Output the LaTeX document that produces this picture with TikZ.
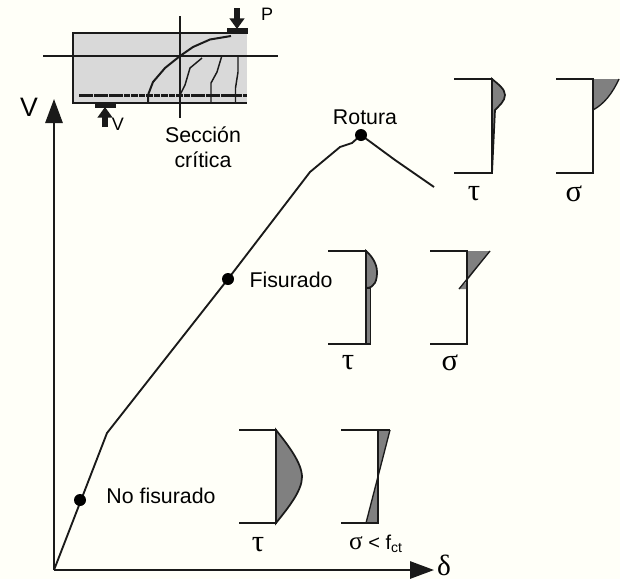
\documentclass[tikz,border=0pt]{standalone}
\usepackage{fontspec}
\setmainfont{Liberation Sans}
\newfontfamily\grk{Liberation Serif}
\usetikzlibrary{arrows.meta}
\definecolor{bgc}{HTML}{FFFFF8}
\definecolor{beam}{HTML}{D9D9D9}
\definecolor{stress}{HTML}{808080}
\definecolor{ink}{HTML}{1A1A1A}
\tikzset{
  x=0.75pt,y=-0.75pt,
  thinl/.style={draw=ink,line width=1.1pt},
  crack/.style={draw=ink,line width=1.1pt},
  stressfill/.style={fill=stress,draw=ink,line width=1.3pt},
  frame/.style={draw=ink,line width=1.5pt},
  lab/.style={font=\fontsize{16pt}{18pt}\selectfont,text=black,inner sep=0pt},
  smalllab/.style={font=\fontsize{13.5pt}{15pt}\selectfont,text=black,inner sep=0pt},
  greek/.style={font=\fontsize{23pt}{25pt}\selectfont\grk,text=black,inner sep=0pt},
  axis/.style={draw=ink,line width=1.4pt,-{Triangle[length=18pt,width=13pt]}},
  loadarrow/.style={draw=ink,line width=4pt,-{Triangle[length=8pt,width=11pt]}},
  dot/.style={circle,fill=black,inner sep=0pt,minimum size=9pt},
}
\begin{document}
\begin{tikzpicture}
\useasboundingbox (0,0) rectangle (620,579);
\fill[bgc] (0,0) rectangle (620,579);
% beam
\fill[beam] (73,33) rectangle (247,103);
\draw[frame] (247,33) -- (73,33) -- (73,103) -- (247,103);
\draw[thinl] (43,56) -- (278,56);
\draw[thinl] (180,16) -- (180,118);
\draw[draw=ink,line width=2.6pt,dash pattern=on 5pt off 0.6pt] (79,95.5) -- (247,95.5);
\fill[ink] (227,28) rectangle (248,33.5);
\fill[ink] (95,103) rectangle (116,107.5);
\coordinate (pt) at (237,8); \coordinate (pb) at (237,29);
\draw[loadarrow] (pt) -- (pb);
\coordinate (vb) at (105,127); \coordinate (vt) at (105,107);
\draw[loadarrow] (vb) -- (vt);
\draw[crack,line width=1.5pt] (231,36) -- (210,39.5) -- (193,47) -- (180,56) -- (165,68) -- (153,82) -- (148,95) -- (148,103);
\draw[crack] (202,58) -- (190,68) -- (185,85) -- (180,95) -- (180,103);
\draw[crack] (221.500,57) -- (217,72) -- (211,83) -- (211,102);
\draw[crack] (238,57) -- (238,72) -- (235.500,88) -- (235.500,102);
\node[smalllab,anchor=center] (lp) at (267,14) {P};
\node[smalllab,anchor=center] (lv) at (118,124) {V};
\node[lab,anchor=center] (sc1) at (203,135) {Sección};
\node[lab,anchor=center] (sc2) at (203,160) {crítica};
% axes
\coordinate (o) at (54,570);
\coordinate (ytop) at (54,99);
\coordinate (xend) at (434,570);
\draw[axis] (o) -- (ytop);
\draw[axis] (o) -- (xend);
\node[font=\fontsize{20pt}{22pt}\selectfont,inner sep=0pt] (lV) at (29,107) {V};
\node[font=\fontsize{22pt}{24pt}\selectfont\grk,inner sep=0pt] (ld) at (444,565) {δ};
% curve
\draw[draw=ink,line width=1.4pt] (o) -- (107,433) -- (228,279) -- (310,172) -- (340,147) -- (352,143) -- (361,135) -- (395,160) -- (434,187);
\node[dot] (d1) at (80,500) {};
\node[dot] (d2) at (228,279) {};
\node[dot] (d3) at (361,135) {};
\node[lab] (l1) at (161,496) {No fisurado};
\node[lab] (l2) at (291,280) {Fisurado};
\node[lab] (l3) at (365,117) {Rotura};
% rotura tau
\path[stressfill] (492,79) .. controls (498,84) and (505,89) .. (505,95) .. controls (505,101) and (499,106) .. (495,110) -- (492,173) -- cycle;
\draw[frame] (454,79) -- (492,79) -- (492,173) -- (454,173);
\node[greek] (t3) at (474,194) {τ};
% rotura sigma
\path[fill=stress] (593,79) -- (619,79) .. controls (612,94) and (604,104) .. (593,110) -- cycle;
\draw[draw=ink,line width=1pt] (619,79) .. controls (612,94) and (604,104) .. (593,110);
\draw[frame] (556,79) -- (593,79) -- (593,173) -- (556,173);
\node[greek] (s3) at (574,194) {σ};
% fisurado tau
\path[stressfill] (366,251) .. controls (372,256) and (377,264) .. (377,272) .. controls (377,280) and (375,288) .. (366,288) -- cycle;
\path[stressfill] (366,288) rectangle (370.500,344);
\draw[frame] (328,251) -- (366,251) -- (366,344) -- (328,344);
\node[greek] (t2) at (348,363) {τ};
% fisurado sigma
\path[fill=stress] (467,251) -- (490,251) -- (467,281) -- cycle;
\path[fill=stress] (467,281) -- (459,289) -- (467,289) -- cycle;
\draw[draw=ink,line width=1pt] (490,251) -- (459,289);
\draw[frame] (430,251) -- (467,251) -- (467,344) -- (430,344);
\node[greek] (s2) at (450,363) {σ};
% no fisurado tau
\path[stressfill] (276,430) .. controls (288,445) and (302,463) .. (302,477) .. controls (302,491) and (288,508) .. (276,523) -- cycle;
\draw[frame] (239,430) -- (276,430) -- (276,523) -- (239,523);
\node[greek] (t1) at (258,545) {τ};
% no fisurado sigma
\path[fill=stress] (378,430) -- (390,430) -- (378,476) -- cycle;
\path[fill=stress] (378,476) -- (366,523) -- (378,523) -- cycle;
\draw[draw=ink,line width=1pt] (390,430) -- (366,523);
\draw[draw=ink,line width=1pt] (378,430) -- (390,430);
\draw[frame] (341,430) -- (378,430) -- (378,523) -- (341,523);
\node[inner sep=0pt,font=\fontsize{15pt}{17pt}\selectfont] (s1) at (376,544) {{\grk\fontsize{19pt}{19pt}\selectfont σ} < f\textsubscript{ct}};
\end{tikzpicture}
\end{document}
